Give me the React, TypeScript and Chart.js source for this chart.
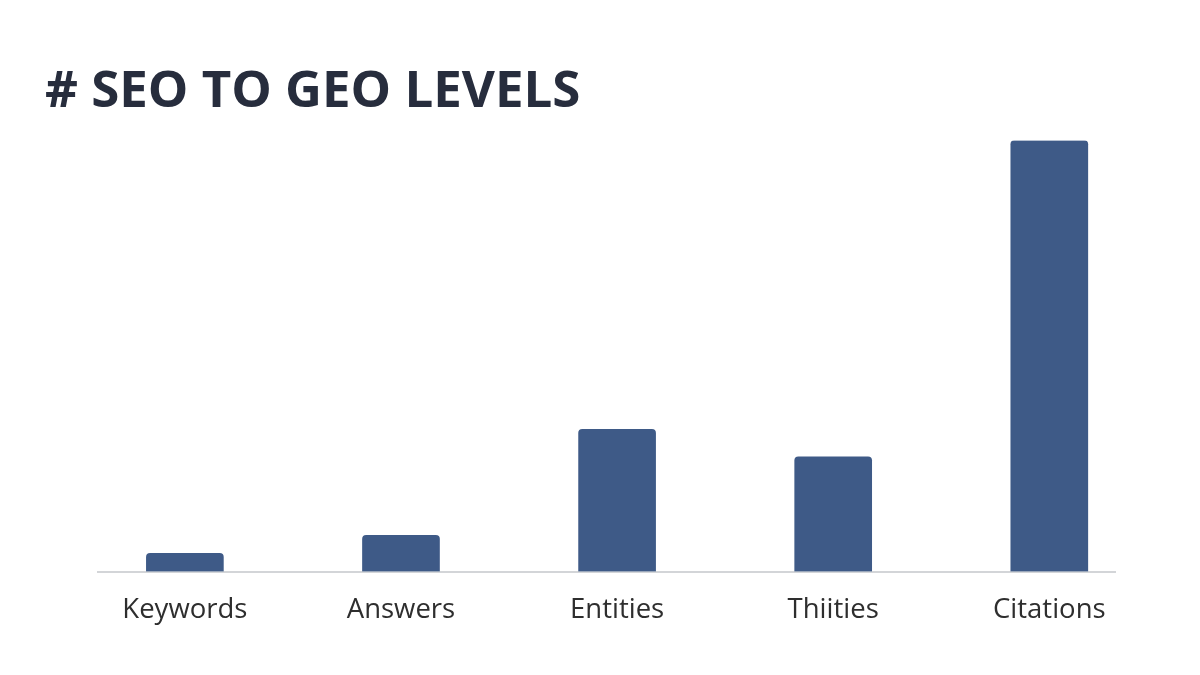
import { useEffect, useRef } from 'react';
import { Chart, registerables } from 'chart.js';

Chart.register(...registerables);

const categories = ['Keywords', 'Answers', 'Entities', 'Thiities', 'Citations'];
const levelValues = [4.2, 8.4, 33, 26.6, 100];

export default function App() {
  const chartRef = useRef<HTMLCanvasElement>(null);
  const chartInstance = useRef<Chart | null>(null);

  useEffect(() => {
    if (!chartRef.current) return;
    const ctx = chartRef.current.getContext('2d');
    if (!ctx) return;

    if (chartInstance.current) {
      chartInstance.current.destroy();
    }

    chartInstance.current = new Chart(ctx, {
      type: 'bar',
      data: {
        datasets: [{
          label: 'Level',
          data: levelValues.map((v, i) => ({ x: i, y: v })),
          backgroundColor: '#3e5a87',
          borderRadius: 4,
          borderSkipped: 'bottom',
          barThickness: 77
        }]
      },
      options: {
        animation: false,
        responsive: false,
        maintainAspectRatio: false,
        layout: {
          padding: { left: 98, right: 85, top: 140.5, bottom: 25.5 }
        },
        plugins: {
          legend: { display: false },
          tooltip: { enabled: false },
          title: { display: false }
        },
        scales: {
          x: {
            type: 'linear',
            offset: false,
            min: -0.402,
            max: 4.304,
            grid: { display: false, drawTicks: false, offset: false },
            border: { display: true, color: '#d3d5d8', width: 2 },
            ticks: {
              stepSize: 1,
              includeBounds: false,
              autoSkip: false,
              maxRotation: 0,
              padding: 22.5,
              color: '#2e2e2e',
              font: { family: '"Open Sans", sans-serif', size: 27.5 },
              callback: (value) => {
                const n = Number(value);
                return Number.isInteger(n) ? categories[n] ?? '' : '';
              }
            }
          },
          y: {
            display: false,
            min: 0,
            max: 100
          }
        }
      }
    });

    return () => {
      if (chartInstance.current) {
        chartInstance.current.destroy();
        chartInstance.current = null;
      }
    };
  }, []);

  return (
    <div style={{ position: 'absolute', left: 0, top: 0, width: 1200, height: 675, background: '#ffffff' }}>
      <div
        style={{
          position: 'absolute',
          left: 45,
          top: 62,
          fontFamily: '"Open Sans", sans-serif',
          fontWeight: 700,
          fontSize: 51,
          lineHeight: '51px',
          color: '#272d3d',
          whiteSpace: 'nowrap'
        }}
      >
        # SEO TO GEO LEVELS
      </div>
      <canvas ref={chartRef} width={1200} height={675} style={{ position: 'absolute', left: 0, top: 0 }}></canvas>
    </div>
  );
}
